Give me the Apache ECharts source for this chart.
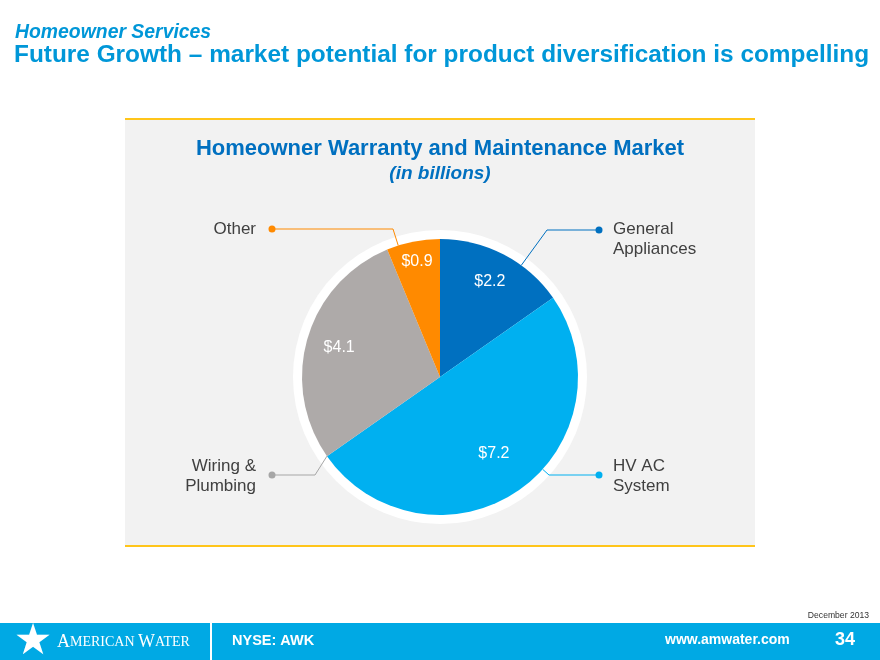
<!DOCTYPE html>
<html><head><meta charset="utf-8">
<script src="https://cdn.jsdelivr.net/npm/echarts@6/dist/echarts.min.js"></script>
<style>html,body{margin:0;padding:0;background:#fff}#c{width:880px;height:660px}</style>
</head><body><div id="c"></div>
<script>
// ---- data ----
const categories = ['General\nAppliances', 'HV AC\nSystem', 'Wiring &\nPlumbing', 'Other'];
const values = [2.2, 7.2, 4.1, 0.9];
const valuePrefix = '$';

// ---- style / layout ----
const colors = ['#0070C0', '#00B0F0', '#AEAAA9', '#FF8A00'];
const lineColors = ['#0070C0', '#00B0F0', '#A6A6A6', '#FF8A00'];
const FONT = '"Liberation Sans", Arial, sans-serif';
const CX = 440, CY = 377, R = 138, RING = 147;
const side = ['right', 'right', 'left', 'left'];
const rowY = [230, 475, 475, 229];
const dotX = [599, 599, 272, 272];
const kinkLen = [52, 50, 43, 121];
const valueR = [108, 94, 105, 118];

const total = values.reduce((a, b) => a + b, 0);
const startA = [], endA = [];
let acc = 0;
values.forEach(v => { startA.push(acc / total * 360); acc += v; endA.push(acc / total * 360); });
function pt(r, deg) { const a = deg * Math.PI / 180; return [CX + r * Math.sin(a), CY - r * Math.cos(a)]; }

const dotRich = {};
lineColors.forEach((c, i) => { dotRich['d' + i] = { width: 7, height: 7, borderRadius: 3.5, backgroundColor: c }; });

const chart = echarts.init(document.getElementById('c'), null, { renderer: 'canvas' });
chart.setOption({
  animation: false,
  backgroundColor: '#ffffff',
  title: [
    { text: 'Homeowner Warranty and Maintenance Market', left: 'center', top: 138, padding: 0,
      textStyle: { color: '#0070C0', fontSize: 22, fontWeight: 'bold', fontFamily: FONT } },
    { text: '(in billions)', left: 'center', top: 164, padding: 0,
      textStyle: { color: '#0070C0', fontSize: 19, fontWeight: 'bold', fontStyle: 'italic', fontFamily: FONT } }
  ],
  graphic: [
    { type: 'rect', z: -10, shape: { x: 125, y: 119, width: 630, height: 427 }, style: { fill: '#F2F2F2' } },
    { type: 'rect', z: -9, shape: { x: 125, y: 118, width: 630, height: 2 }, style: { fill: '#FFC51A' } },
    { type: 'rect', z: -9, shape: { x: 125, y: 545, width: 630, height: 2 }, style: { fill: '#FFC51A' } },
    { type: 'text', x: 15, y: 33, style: { text: 'Homeowner Services', fill: '#0097D8', font: 'italic bold 19.4px ' + FONT, align: 'left', verticalAlign: 'middle', textAlign: 'left', textVerticalAlign: 'middle' } },
    { type: 'text', x: 14, y: 55, style: { text: 'Future Growth \u2013 market potential for product diversification is compelling', fill: '#0097D8', font: 'bold 24.4px ' + FONT, align: 'left', verticalAlign: 'middle', textAlign: 'left', textVerticalAlign: 'middle' } },
    { type: 'text', x: 869, y: 616, style: { text: 'December 2013', fill: '#333333', font: '8.6px ' + FONT, align: 'right', verticalAlign: 'middle', textAlign: 'right', textVerticalAlign: 'middle' } },
    { type: 'rect', shape: { x: 0, y: 623, width: 880, height: 37 }, style: { fill: '#00A9E4' } },
    { type: 'rect', shape: { x: 210, y: 623, width: 2, height: 37 }, style: { fill: '#ffffff' } },
    { type: 'text', x: 33, y: 643, style: { text: '\u2605', fill: '#ffffff', font: '43px "DejaVu Sans", sans-serif', align: 'center', verticalAlign: 'middle', textAlign: 'center', textVerticalAlign: 'middle' } },
    { type: 'text', x: 57, y: 642, style: { text: '{a|A}{b|MERICAN} {a|W}{b|ATER}', fill: '#ffffff', align: 'left', verticalAlign: 'middle', textAlign: 'left', textVerticalAlign: 'middle',
      rich: { a: { fontSize: 18, fontFamily: '"Liberation Serif", serif', fill: '#ffffff', color: '#ffffff' }, b: { fontSize: 14, fontFamily: '"Liberation Serif", serif', fill: '#ffffff', color: '#ffffff' } } } },
    { type: 'text', x: 232, y: 641, style: { text: 'NYSE: AWK', fill: '#ffffff', font: 'bold 14.5px ' + FONT, align: 'left', verticalAlign: 'middle', textAlign: 'left', textVerticalAlign: 'middle' } },
    { type: 'text', x: 665, y: 640, style: { text: 'www.amwater.com', fill: '#ffffff', font: 'bold 14px ' + FONT, align: 'left', verticalAlign: 'middle', textAlign: 'left', textVerticalAlign: 'middle' } },
    { type: 'text', x: 835, y: 640, style: { text: '34', fill: '#ffffff', font: 'bold 18px ' + FONT, align: 'left', verticalAlign: 'middle', textAlign: 'left', textVerticalAlign: 'middle' } }
  ],
  series: [
    { // white ring behind the pie
      type: 'pie', center: [CX, CY], radius: [0, RING], silent: true, z: 1,
      label: { show: false }, labelLine: { show: false },
      data: [{ value: 1, itemStyle: { color: '#ffffff' } }]
    },
    { // main pie with value labels
      type: 'pie', center: [CX, CY], radius: [0, R], startAngle: 90, clockwise: true, silent: true, z: 2,
      avoidLabelOverlap: false,
      data: values.map((v, i) => ({ name: categories[i], value: v, itemStyle: { color: colors[i] } })),
      label: { show: true, position: 'inside', formatter: p => valuePrefix + p.value.toFixed(1), color: '#ffffff', fontSize: 16, fontFamily: FONT },
      labelLine: { show: false },
      labelLayout: p => { const i = p.dataIndex; const q = pt(valueR[i], (startA[i] + endA[i]) / 2); return { x: q[0], y: q[1], align: 'center', verticalAlign: 'middle' }; }
    },
    { // callout lines and dots
      type: 'pie', center: [CX, CY], radius: [0, R], startAngle: 90, clockwise: true, silent: true, z: 3,
      avoidLabelOverlap: false,
      itemStyle: { color: 'rgba(0,0,0,0)' },
      data: values.map((v, i) => ({ name: categories[i], value: v,
        label: { formatter: '{d' + i + '|}' },
        labelLine: { lineStyle: { color: lineColors[i], width: 1 } } })),
      label: { show: true, position: 'outside', rich: dotRich },
      labelLine: { show: true, length: 10, length2: 10 },
      labelLayout: p => {
        const i = p.dataIndex; const dx = dotX[i], dy = rowY[i];
        const kx = side[i] === 'right' ? dx - kinkLen[i] : dx + kinkLen[i];
        let th = Math.atan2(kx - CX, -(dy - CY)) * 180 / Math.PI; if (th < 0) th += 360;
        th = Math.min(Math.max(th, startA[i]), endA[i]);
        const a = pt(R, th);
        return { x: dx, y: dy, align: 'center', verticalAlign: 'middle', labelLinePoints: [a, [kx, dy], [dx, dy]] };
      }
    },
    { // category names
      type: 'pie', center: [CX, CY], radius: [0, R], startAngle: 90, clockwise: true, silent: true, z: 3,
      avoidLabelOverlap: false,
      itemStyle: { color: 'rgba(0,0,0,0)' },
      data: values.map((v, i) => ({ name: categories[i], value: v })),
      label: { show: true, position: 'outside', formatter: '{b}', color: '#404040', fontSize: 17, lineHeight: 20, fontFamily: FONT },
      labelLine: { show: false },
      labelLayout: p => {
        const i = p.dataIndex; const right = side[i] === 'right';
        const twoLine = categories[i].indexOf('\n') >= 0; const top = rowY[i] < CY;
        let y, va;
        if (!twoLine) { y = rowY[i]; va = 'middle'; }
        else if (top) { y = rowY[i] - 11; va = 'top'; }
        else { y = rowY[i] + 1; va = 'middle'; }
        return { x: right ? dotX[i] + 14 : dotX[i] - 16, y: y, align: right ? 'left' : 'right', verticalAlign: va };
      }
    }
  ]
});
</script>
</body></html>
